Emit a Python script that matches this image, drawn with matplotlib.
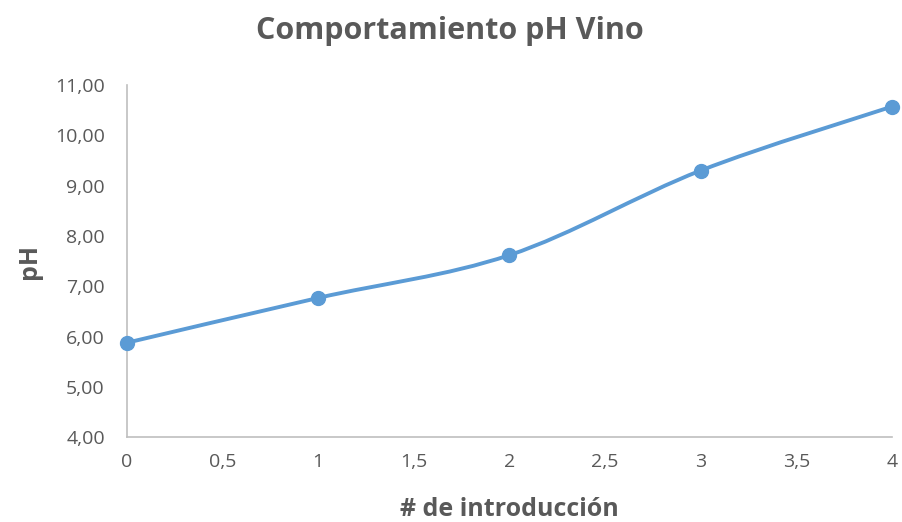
import matplotlib
matplotlib.use("Agg")
import matplotlib.pyplot as plt
from matplotlib.path import Path
from matplotlib.patches import PathPatch
from matplotlib.ticker import FuncFormatter, MultipleLocator
import numpy as np

x_vals = [0, 1, 2, 3, 4]
ph_vals = [5.88, 6.77, 7.62, 9.30, 10.57]
title = "Comportamiento pH Vino"
xlabel = "# de introducción"
ylabel = "pH"

color = "#5B9BD5"
gray = "#595959"
plt.rcParams['font.family'] = ['Open Sans', 'DejaVu Sans']

fig = plt.figure(figsize=(9.02, 5.22), dpi=100)
ax = fig.add_axes([0.1408, 0.1622, 0.848, 0.675])

# smoothed curve (Catmull-Rom style Bezier, like Excel smoothing)
xs = np.array(x_vals, float)
ys = np.array(ph_vals, float)
verts = [(xs[0], ys[0])]
codes = [Path.MOVETO]
n = len(xs)
for i in range(n - 1):
    p0 = np.array([xs[max(i - 1, 0)], ys[max(i - 1, 0)]])
    p1 = np.array([xs[i], ys[i]])
    p2 = np.array([xs[i + 1], ys[i + 1]])
    p3 = np.array([xs[min(i + 2, n - 1)], ys[min(i + 2, n - 1)]])
    c1 = p1 + (p2 - p0) / 6.0
    c2 = p2 - (p3 - p1) / 6.0
    verts += [tuple(c1), tuple(c2), tuple(p2)]
    codes += [Path.CURVE4] * 3
patch = PathPatch(Path(verts, codes), facecolor='none', edgecolor=color,
                  lw=2.8, capstyle='round', joinstyle='round', zorder=2)
ax.add_patch(patch)
ax.plot(x_vals, ph_vals, 'o', color=color, markersize=10, zorder=3, clip_on=False)

ax.set_xlim(0, 4)
ax.set_ylim(4, 11)
ax.xaxis.set_major_locator(MultipleLocator(0.5))
ax.yaxis.set_major_locator(MultipleLocator(1))
ax.xaxis.set_major_formatter(FuncFormatter(lambda v, p: (f"{v:g}").replace('.', ',')))
ax.yaxis.set_major_formatter(FuncFormatter(lambda v, p: f"{v:.2f}".replace('.', ',')))

for s in ['top', 'right']:
    ax.spines[s].set_visible(False)
for s in ['left', 'bottom']:
    ax.spines[s].set_color('#BFBFBF')
    ax.spines[s].set_linewidth(1.2)
ax.tick_params(axis='both', length=0, labelsize=14, colors=gray)
ax.tick_params(axis='y', pad=16)
ax.tick_params(axis='x', pad=11)

ax.set_xlabel(xlabel, fontsize=18, fontweight='bold', color=gray, labelpad=19)
ax.set_ylabel(ylabel, fontsize=18, fontweight='bold', color=gray, labelpad=9)
fig.text(0.499, 0.940, title, ha='center', va='center', fontsize=22,
         fontweight='bold', color=gray)

fig.savefig("out.png", dpi=100)
